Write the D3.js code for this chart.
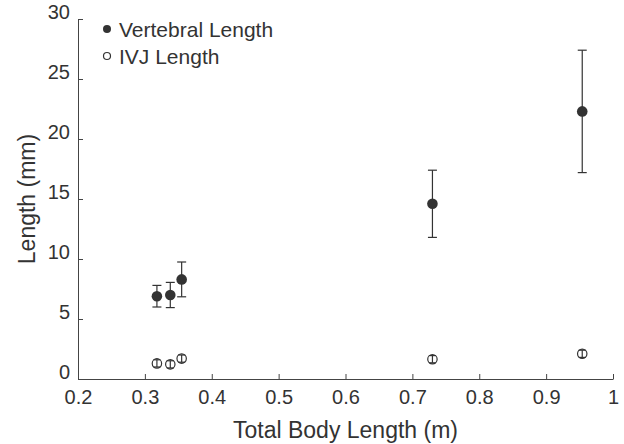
<!DOCTYPE html>
<html>
<head>
<meta charset="utf-8">
<script src="https://cdn.jsdelivr.net/npm/d3@7"></script>
<style>
  body { margin: 0; background: #fff; }
  text { font-family: "Liberation Sans", Arial, sans-serif; fill: #333; }
</style>
</head>
<body>
<div id="chart"></div>
<script>
// data
var bodyLength = [0.318, 0.338, 0.355, 0.73, 0.954];
var vertMean = [6.9, 7.0, 8.3, 14.6, 22.3];
var vertErr = [0.9, 1.05, 1.45, 2.8, 5.1];
var ivjMean = [1.3, 1.22, 1.7, 1.65, 2.1];
var ivjErr = [0.3, 0.3, 0.3, 0.3, 0.3];
var xTicks = [0.2, 0.3, 0.4, 0.5, 0.6, 0.7, 0.8, 0.9, 1];
var yTicks = [0, 5, 10, 15, 20, 25, 30];

var W = 624, H = 444;
var margin = {top: 19, right: 11, bottom: 65, left: 78};
var width = W - margin.left - margin.right,
    height = H - margin.top - margin.bottom;

var svg = d3.select("#chart")
  .append("svg")
    .attr("width", W)
    .attr("height", H)
  .append("g")
    .attr("transform", "translate(" + margin.left + "," + margin.top + ")");

var x = d3.scaleLinear().domain([0.2, 1]).range([0, width]);
var y = d3.scaleLinear().domain([0, 30]).range([height, 0]);

// X axis (ticks point inward)
var xAxis = svg.append("g")
  .attr("transform", "translate(0," + height + ")")
  .call(d3.axisBottom(x).tickValues(xTicks).tickSizeInner(-5).tickSizeOuter(0)
    .tickFormat(function(d) { return d === 1 ? "1" : d3.format(".1f")(d); }));
xAxis.select(".domain").attr("stroke", "#444");
xAxis.selectAll(".tick line").attr("stroke", "#444");
xAxis.selectAll("text")
  .attr("y", 11)
  .attr("dy", "0.71em")
  .style("font-size", "20px")
  .style("fill", "#333");

// Y axis
var yAxis = svg.append("g")
  .call(d3.axisLeft(y).tickValues(yTicks).tickSizeInner(-5).tickSizeOuter(0));
yAxis.select(".domain").attr("stroke", "#444");
yAxis.selectAll(".tick line").attr("stroke", "#444");
yAxis.selectAll("text")
  .attr("x", -8)
  .attr("dy", "-0.05em")
  .style("font-size", "20px")
  .style("fill", "#333");

// axis titles
svg.append("text")
  .attr("x", width / 2)
  .attr("y", height + 59)
  .style("text-anchor", "middle")
  .style("font-size", "23px")
  .text("Total Body Length (m)");

svg.append("text")
  .attr("transform", "rotate(-90)")
  .attr("x", 0 - (height / 2))
  .attr("y", 0 - margin.left + 35)
  .style("text-anchor", "middle")
  .style("font-size", "23px")
  .text("Length (mm)");

var vert = bodyLength.map(function(d, i) { return {x: d, m: vertMean[i], e: vertErr[i]}; });
var ivj = bodyLength.map(function(d, i) { return {x: d, m: ivjMean[i], e: ivjErr[i]}; });

function errorBars(data, cap) {
  var g = svg.append("g").attr("stroke", "#333").attr("stroke-width", 1.2);
  g.selectAll(".v").data(data).enter().append("line")
    .attr("x1", function(d) { return x(d.x); })
    .attr("x2", function(d) { return x(d.x); })
    .attr("y1", function(d) { return y(d.m - d.e); })
    .attr("y2", function(d) { return y(d.m + d.e); });
  g.selectAll(".t").data(data).enter().append("line")
    .attr("x1", function(d) { return x(d.x) - cap; })
    .attr("x2", function(d) { return x(d.x) + cap; })
    .attr("y1", function(d) { return y(d.m + d.e); })
    .attr("y2", function(d) { return y(d.m + d.e); });
  g.selectAll(".b").data(data).enter().append("line")
    .attr("x1", function(d) { return x(d.x) - cap; })
    .attr("x2", function(d) { return x(d.x) + cap; })
    .attr("y1", function(d) { return y(d.m - d.e); })
    .attr("y2", function(d) { return y(d.m - d.e); });
}

errorBars(vert, 4.5);
svg.selectAll(".vdot").data(vert).enter().append("circle")
  .attr("cx", function(d) { return x(d.x); })
  .attr("cy", function(d) { return y(d.m); })
  .attr("r", 5.3)
  .attr("fill", "#333");

svg.selectAll(".idot").data(ivj).enter().append("circle")
  .attr("cx", function(d) { return x(d.x); })
  .attr("cy", function(d) { return y(d.m); })
  .attr("r", 4.7)
  .attr("fill", "#fff")
  .attr("stroke", "#333")
  .attr("stroke-width", 1.2);
errorBars(ivj, 3.5);

// legend
var legend = svg.append("g").attr("transform", "translate(29,10)");
legend.append("circle").attr("cx", 0).attr("cy", 0).attr("r", 4).attr("fill", "#333");
legend.append("text").attr("x", 12).attr("y", 8).style("font-size", "21px").text("Vertebral Length");
legend.append("circle").attr("cx", 0).attr("cy", 27).attr("r", 3.5)
  .attr("fill", "#fff").attr("stroke", "#333").attr("stroke-width", 1.2);
legend.append("text").attr("x", 12).attr("y", 35).style("font-size", "21px").text("IVJ Length");
</script>
</body>
</html>
